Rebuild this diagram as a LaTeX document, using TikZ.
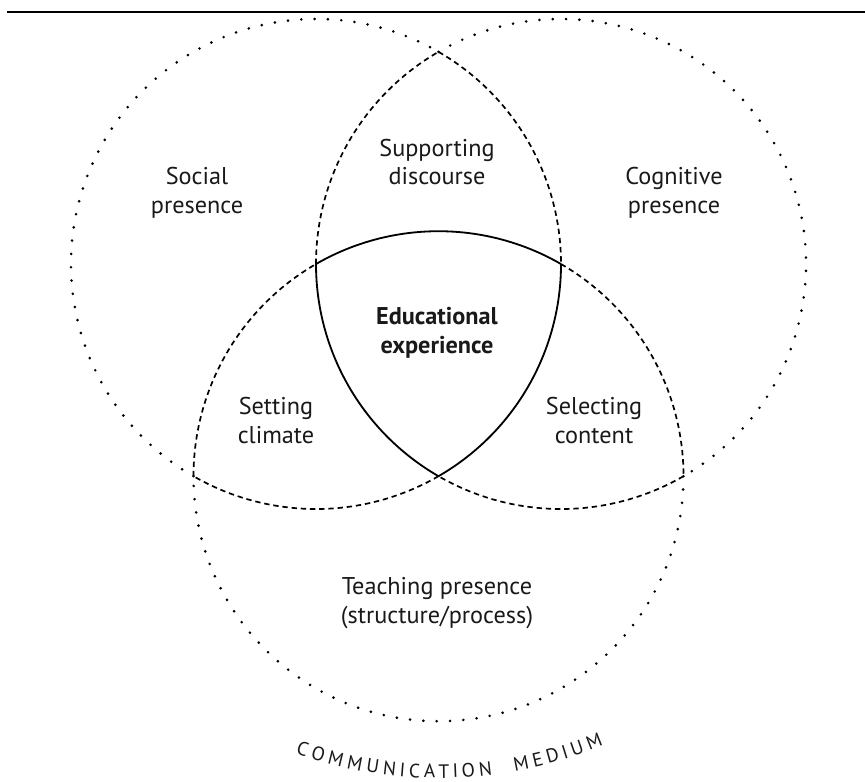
\documentclass[tikz,border=0pt]{standalone}
\usepackage{fontspec}
\setmainfont{PT Sans}
\begin{document}
\begin{tikzpicture}[x=0.0145cm, y=-0.0145cm,
	outer/.style={line width=1.2pt, line cap=round, dash pattern=on 0pt off 5.5pt},
	inner/.style={line width=0.7pt, dash pattern=on 2.2pt off 1.6pt},
	core/.style={line width=0.75pt},
	label/.style={align=center, inner sep=0pt, text=black!90, font=\fontsize{10}{11.8}\selectfont},
	corelabel/.style={label, font=\fontsize{10}{11.8}\selectfont\bfseries},
	medium/.style={inner sep=0pt, anchor=base, text=black!90, font=\fontsize{8}{9}\selectfont}]
	\useasboundingbox (0,0) rectangle (865,781);
	\def\rad{245}
	%Rule at the top
		\coordinate (ruleA) at (7,12);
		\coordinate (ruleB) at (865,12);
		\draw [line width=0.45pt] (ruleA) -- (ruleB);
	%Circle centres
		\coordinate (soc) at (316,264);
		\coordinate (cog) at (561,264);
		\coordinate (tea) at (438.5,476.2);
	%Social presence circle
		\draw [outer] (soc) ++(120:\rad) arc [start angle=120, end angle=300, radius=\rad];
		\draw [inner] (soc) ++(300:\rad) arc [start angle=300, end angle=360, radius=\rad];
		\draw [core] (soc) ++(0:\rad) arc [start angle=0, end angle=60, radius=\rad];
		\draw [inner] (soc) ++(60:\rad) arc [start angle=60, end angle=120, radius=\rad];
	%Cognitive presence circle
		\draw [outer] (cog) ++(240:\rad) arc [start angle=240, end angle=420, radius=\rad];
		\draw [inner] (cog) ++(60:\rad) arc [start angle=60, end angle=120, radius=\rad];
		\draw [core] (cog) ++(120:\rad) arc [start angle=120, end angle=180, radius=\rad];
		\draw [inner] (cog) ++(180:\rad) arc [start angle=180, end angle=240, radius=\rad];
	%Teaching presence circle
		\draw [outer] (tea) ++(0:\rad) arc [start angle=0, end angle=180, radius=\rad];
		\draw [inner] (tea) ++(180:\rad) arc [start angle=180, end angle=240, radius=\rad];
		\draw [core] (tea) ++(240:\rad) arc [start angle=240, end angle=300, radius=\rad];
		\draw [inner] (tea) ++(300:\rad) arc [start angle=300, end angle=360, radius=\rad];
	%Labels
		\node [label] (social) at (197,193) {Social\\presence};
		\node [label] (support) at (437,162) {Supporting\\discourse};
		\node [label] (cognitive) at (674,193) {Cognitive\\presence};
		\node [corelabel] (edu) at (437,332.5) {Educational\\experience};
		\node [label] (setting) at (276,420.5) {Setting\\climate};
		\node [label] (selecting) at (594,420.5) {Selecting\\content};
		\node [label] (teaching) at (437,603) {Teaching presence\\(structure/process)};
	%Communication medium, letter by letter along the arc
		\foreach \ch/\s in {C/-139.8, O/-123.3, M/-104.7, M/-84.9, U/-66.5, N/-49.3, I/-36.1, C/-23.9, A/-8.5, T/6.1, I/17.6, O/30.8, N/48.1, M/85.0, E/102.0, D/117.7, I/130.8, U/143.8, M/162.2}{
			\pgfmathsetmacro\tilt{\s*0.13263}
			\pgfmathsetmacro\pol{90-\tilt}
			\node [medium, rotate=\tilt] at ([shift={(438,346)}]\pol:432) {\ch};
		}
\end{tikzpicture}
\end{document}
